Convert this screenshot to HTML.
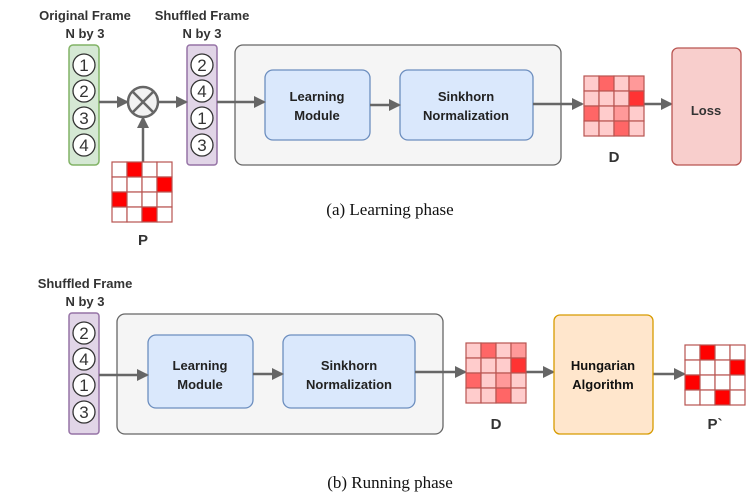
<!DOCTYPE html>
<html><head><style>body{margin:0;background:#fff}svg{display:block}</style></head><body>
<svg width="747" height="500" xmlns="http://www.w3.org/2000/svg" font-family="Liberation Sans, sans-serif">
<defs><marker id="a" markerWidth="12" markerHeight="12" refX="10" refY="6" orient="auto" markerUnits="userSpaceOnUse"><path d="M0,0 L12,6 L0,12 z" fill="#666"/></marker></defs>
<g font-weight="bold" font-size="13" fill="#333" text-anchor="middle">
<text x="85" y="20">Original Frame</text><text x="85" y="38">N by 3</text>
<text x="202" y="20">Shuffled Frame</text><text x="202" y="38">N by 3</text>
<text x="85" y="288">Shuffled Frame</text><text x="85" y="306">N by 3</text>
</g>
<rect x="69" y="45" width="30" height="120" rx="4" fill="#d5e8d4" stroke="#82b366" stroke-width="1.5"/>
<rect x="187" y="45" width="30" height="120" rx="3" fill="#e1d5e7" stroke="#9673a6" stroke-width="1.5"/>
<rect x="69" y="313" width="30" height="121" rx="3" fill="#e1d5e7" stroke="#9673a6" stroke-width="1.5"/>
<g fill="#fff" stroke="#333" stroke-width="1.3">
<circle cx="84" cy="65" r="11"/><circle cx="84" cy="91" r="11"/><circle cx="84" cy="118" r="11"/><circle cx="84" cy="145" r="11"/>
<circle cx="202" cy="65" r="11"/><circle cx="202" cy="91" r="11"/><circle cx="202" cy="118" r="11"/><circle cx="202" cy="145" r="11"/>
<circle cx="84" cy="333" r="11"/><circle cx="84" cy="359" r="11"/><circle cx="84" cy="385" r="11"/><circle cx="84" cy="412" r="11"/>
</g>
<g font-size="17" fill="#333" text-anchor="middle">
<text x="84" y="71">1</text><text x="84" y="97">2</text><text x="84" y="124">3</text><text x="84" y="151">4</text>
<text x="202" y="71">2</text><text x="202" y="97">4</text><text x="202" y="124">1</text><text x="202" y="151">3</text>
<text x="84" y="339">2</text><text x="84" y="365">4</text><text x="84" y="391">1</text><text x="84" y="418">3</text>
</g>
<circle cx="143" cy="102" r="15" fill="#f2f2f2" stroke="#666" stroke-width="2.5"/>
<path d="M132,91 L154,113 M154,91 L132,113" stroke="#666" stroke-width="2.5"/>
<g stroke="#666" stroke-width="2.5" marker-end="url(#a)">
<line x1="99" y1="102" x2="127" y2="102"/><line x1="158" y1="102" x2="186" y2="102"/><line x1="143" y1="162" x2="143" y2="118"/>
</g>
<rect x="235" y="45" width="326" height="120" rx="8" fill="#f5f5f5" stroke="#666" stroke-width="1.3"/>
<rect x="117" y="314" width="326" height="120" rx="8" fill="#f5f5f5" stroke="#666" stroke-width="1.3"/>
<g fill="#dae8fc" stroke="#6c8ebf" stroke-width="1.3">
<rect x="265" y="70" width="105" height="70" rx="8"/><rect x="400" y="70" width="133" height="70" rx="8"/>
<rect x="148" y="335" width="105" height="73" rx="8"/><rect x="283" y="335" width="132" height="73" rx="8"/>
</g>
<g font-weight="bold" font-size="13" fill="#222" text-anchor="middle">
<text x="317" y="101">Learning</text><text x="317" y="120">Module</text>
<text x="466" y="101">Sinkhorn</text><text x="466" y="120">Normalization</text>
<text x="200" y="370">Learning</text><text x="200" y="389">Module</text>
<text x="349" y="370">Sinkhorn</text><text x="349" y="389">Normalization</text>
</g>
<g stroke="#666" stroke-width="2.5" marker-end="url(#a)">
<line x1="217" y1="102" x2="264" y2="102"/><line x1="370" y1="105" x2="399" y2="105"/><line x1="533" y1="104" x2="582" y2="104"/><line x1="643" y1="104" x2="671" y2="104"/>
<line x1="99" y1="375" x2="147" y2="375"/><line x1="253" y1="374" x2="282" y2="374"/><line x1="415" y1="372" x2="465" y2="372"/><line x1="526" y1="372" x2="553" y2="372"/><line x1="653" y1="374" x2="684" y2="374"/>
</g>
<rect x="672" y="48" width="69" height="117" rx="6" fill="#f8cecc" stroke="#b85450" stroke-width="1.3"/>
<text x="706" y="115" font-weight="bold" font-size="13" fill="#333" text-anchor="middle">Loss</text>
<rect x="554" y="315" width="99" height="119" rx="6" fill="#ffe6cc" stroke="#d79b00" stroke-width="1.3"/>
<text x="603" y="370" font-weight="bold" font-size="13" fill="#111" text-anchor="middle">Hungarian</text>
<text x="603" y="389" font-weight="bold" font-size="13" fill="#111" text-anchor="middle">Algorithm</text>
<g stroke="#b85450" stroke-width="1.2">
<g transform="translate(112,162)">
<rect x="0" y="0" width="15" height="15" fill="#fff"/><rect x="15" y="0" width="15" height="15" fill="#f00"/><rect x="30" y="0" width="15" height="15" fill="#fff"/><rect x="45" y="0" width="15" height="15" fill="#fff"/>
<rect x="0" y="15" width="15" height="15" fill="#fff"/><rect x="15" y="15" width="15" height="15" fill="#fff"/><rect x="30" y="15" width="15" height="15" fill="#fff"/><rect x="45" y="15" width="15" height="15" fill="#f00"/>
<rect x="0" y="30" width="15" height="15" fill="#f00"/><rect x="15" y="30" width="15" height="15" fill="#fff"/><rect x="30" y="30" width="15" height="15" fill="#fff"/><rect x="45" y="30" width="15" height="15" fill="#fff"/>
<rect x="0" y="45" width="15" height="15" fill="#fff"/><rect x="15" y="45" width="15" height="15" fill="#fff"/><rect x="30" y="45" width="15" height="15" fill="#f00"/><rect x="45" y="45" width="15" height="15" fill="#fff"/>
</g>
<g transform="translate(685,345)">
<rect x="0" y="0" width="15" height="15" fill="#fff"/><rect x="15" y="0" width="15" height="15" fill="#f00"/><rect x="30" y="0" width="15" height="15" fill="#fff"/><rect x="45" y="0" width="15" height="15" fill="#fff"/>
<rect x="0" y="15" width="15" height="15" fill="#fff"/><rect x="15" y="15" width="15" height="15" fill="#fff"/><rect x="30" y="15" width="15" height="15" fill="#fff"/><rect x="45" y="15" width="15" height="15" fill="#f00"/>
<rect x="0" y="30" width="15" height="15" fill="#f00"/><rect x="15" y="30" width="15" height="15" fill="#fff"/><rect x="30" y="30" width="15" height="15" fill="#fff"/><rect x="45" y="30" width="15" height="15" fill="#fff"/>
<rect x="0" y="45" width="15" height="15" fill="#fff"/><rect x="15" y="45" width="15" height="15" fill="#fff"/><rect x="30" y="45" width="15" height="15" fill="#f00"/><rect x="45" y="45" width="15" height="15" fill="#fff"/>
</g>
<g transform="translate(584,76)">
<rect x="0" y="0" width="15" height="15" fill="#ffcccc"/><rect x="15" y="0" width="15" height="15" fill="#ff6666"/><rect x="30" y="0" width="15" height="15" fill="#ffcccc"/><rect x="45" y="0" width="15" height="15" fill="#ff9999"/>
<rect x="0" y="15" width="15" height="15" fill="#ffcccc"/><rect x="15" y="15" width="15" height="15" fill="#ffcccc"/><rect x="30" y="15" width="15" height="15" fill="#ffcccc"/><rect x="45" y="15" width="15" height="15" fill="#ff3333"/>
<rect x="0" y="30" width="15" height="15" fill="#ff6666"/><rect x="15" y="30" width="15" height="15" fill="#ffcccc"/><rect x="30" y="30" width="15" height="15" fill="#ff9999"/><rect x="45" y="30" width="15" height="15" fill="#ffcccc"/>
<rect x="0" y="45" width="15" height="15" fill="#ffcccc"/><rect x="15" y="45" width="15" height="15" fill="#ffcccc"/><rect x="30" y="45" width="15" height="15" fill="#ff6666"/><rect x="45" y="45" width="15" height="15" fill="#ffcccc"/>
</g>
<g transform="translate(466,343)">
<rect x="0" y="0" width="15" height="15" fill="#ffcccc"/><rect x="15" y="0" width="15" height="15" fill="#ff6666"/><rect x="30" y="0" width="15" height="15" fill="#ffcccc"/><rect x="45" y="0" width="15" height="15" fill="#ff9999"/>
<rect x="0" y="15" width="15" height="15" fill="#ffcccc"/><rect x="15" y="15" width="15" height="15" fill="#ffcccc"/><rect x="30" y="15" width="15" height="15" fill="#ffcccc"/><rect x="45" y="15" width="15" height="15" fill="#ff3333"/>
<rect x="0" y="30" width="15" height="15" fill="#ff6666"/><rect x="15" y="30" width="15" height="15" fill="#ffcccc"/><rect x="30" y="30" width="15" height="15" fill="#ff9999"/><rect x="45" y="30" width="15" height="15" fill="#ffcccc"/>
<rect x="0" y="45" width="15" height="15" fill="#ffcccc"/><rect x="15" y="45" width="15" height="15" fill="#ffcccc"/><rect x="30" y="45" width="15" height="15" fill="#ff6666"/><rect x="45" y="45" width="15" height="15" fill="#ffcccc"/>
</g>
</g>
<g font-weight="bold" font-size="15" fill="#333" text-anchor="middle">
<text x="143" y="245">P</text><text x="614" y="162">D</text><text x="496" y="429">D</text><text x="715" y="429">P`</text>
</g>
<g font-family="Liberation Serif, serif" font-size="17" fill="#111" text-anchor="middle">
<text x="390" y="215">(a) Learning phase</text><text x="390" y="488">(b) Running phase</text>
</g>
</svg>
</body></html>
